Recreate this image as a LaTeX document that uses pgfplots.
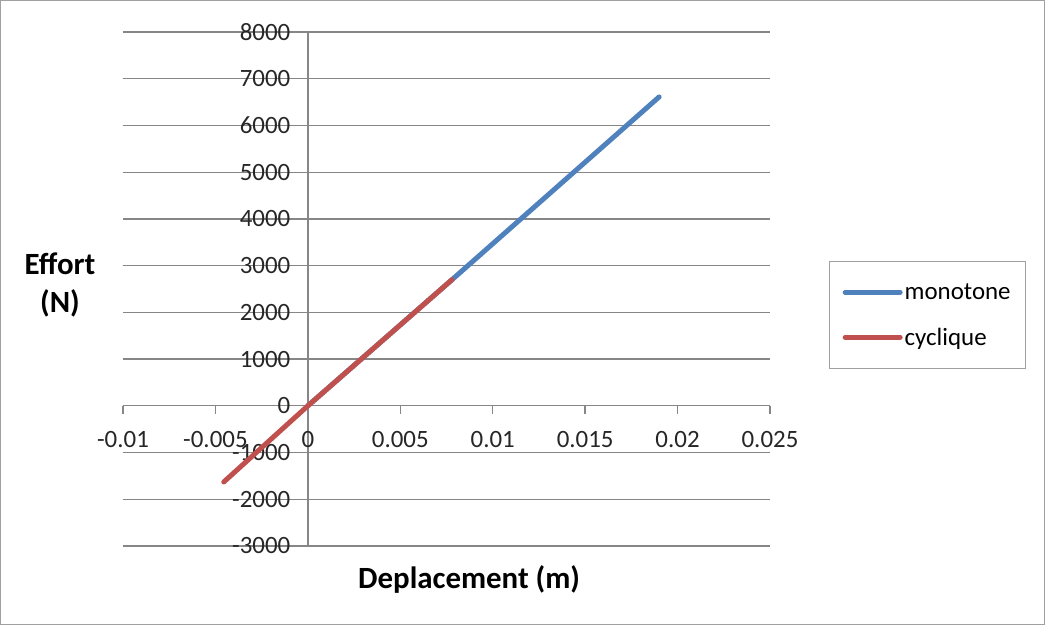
\documentclass[border=0pt]{standalone}
\usepackage{fontspec}
\setmainfont{Carlito}
\usepackage{pgfplots}
\pgfplotsset{compat=1.18}
\definecolor{gridgray}{HTML}{868686}
\definecolor{framegray}{HTML}{A0A0A0}
\definecolor{mblue}{HTML}{4F81BD}
\definecolor{cred}{HTML}{C0504D}
\begin{document}
\begin{tikzpicture}
\begin{axis}[
  scale only axis,
  width=647bp, height=514bp,
  xmin=-0.01, xmax=0.025, ymin=-3000, ymax=8000,
  axis lines=middle,
  axis line style={-, draw=gridgray, line width=1.3bp},
  hide obscured x ticks=false, hide obscured y ticks=false,
  scaled x ticks=false, scaled y ticks=false,
  xtick={-0.01,-0.005,0,0.005,0.01,0.015,0.02,0.025},
  xticklabels={-0.01,-0.005,0,0.005,0.01,0.015,0.02,0.025},
  ytick={-3000,-2000,-1000,0,1000,2000,3000,4000,5000,6000,7000,8000},
  yticklabels={-3000,-2000,-1000,0,1000,2000,3000,4000,5000,6000,7000,8000},
  xtick align=outside,
  major tick length=8bp,
  xtick style={draw=gridgray, line width=1.3bp},
  ytick style={draw=none},
  ymajorgrids,
  grid style={draw=gridgray, line width=1.3bp},
  tick label style={font=\fontsize{25}{27}\selectfont, text=black!85},
  x tick label style={yshift=-14bp},
  y tick label style={xshift=-10bp},
  xlabel={Deplacement (m)},
  ylabel={Effort\\(N)},
  every axis x label/.style={at={(axis description cs:0.535,-0.066)}, anchor=center, font=\bfseries\fontsize{31}{33}\selectfont},
  every axis y label/.style={at={(axis description cs:-0.0974,0.508)}, anchor=center, align=center, font=\bfseries\fontsize{31}{38}\selectfont},
  legend style={at={(axis description cs:1.0912,0.5545)}, anchor=north west, draw=framegray, line width=1.3bp,
    font=\fontsize{25}{27}\selectfont, row sep=23bp, inner xsep=13bp, inner ysep=20bp},
  legend cell align=left,
  legend image code/.code={\draw[#1, line width=5bp] (0bp,0bp) -- (55bp,0bp);},
]
\addplot[mblue, line width=5bp, line cap=round] coordinates {(0,0) (0.0078,2700) (0.019,6610)};
\addlegendentry{monotone}
\addplot[cred, line width=5bp, line cap=round] coordinates {(-0.00455,-1630) (0,0) (0.0078,2700)};
\addlegendentry{cyclique}
\end{axis}
\draw[framegray, line width=1.5bp] ([xshift=-122.25bp, yshift=-78.25bp]current axis.south west) rectangle ([xshift=274.25bp, yshift=31.25bp]current axis.north east);
\end{tikzpicture}
\end{document}
